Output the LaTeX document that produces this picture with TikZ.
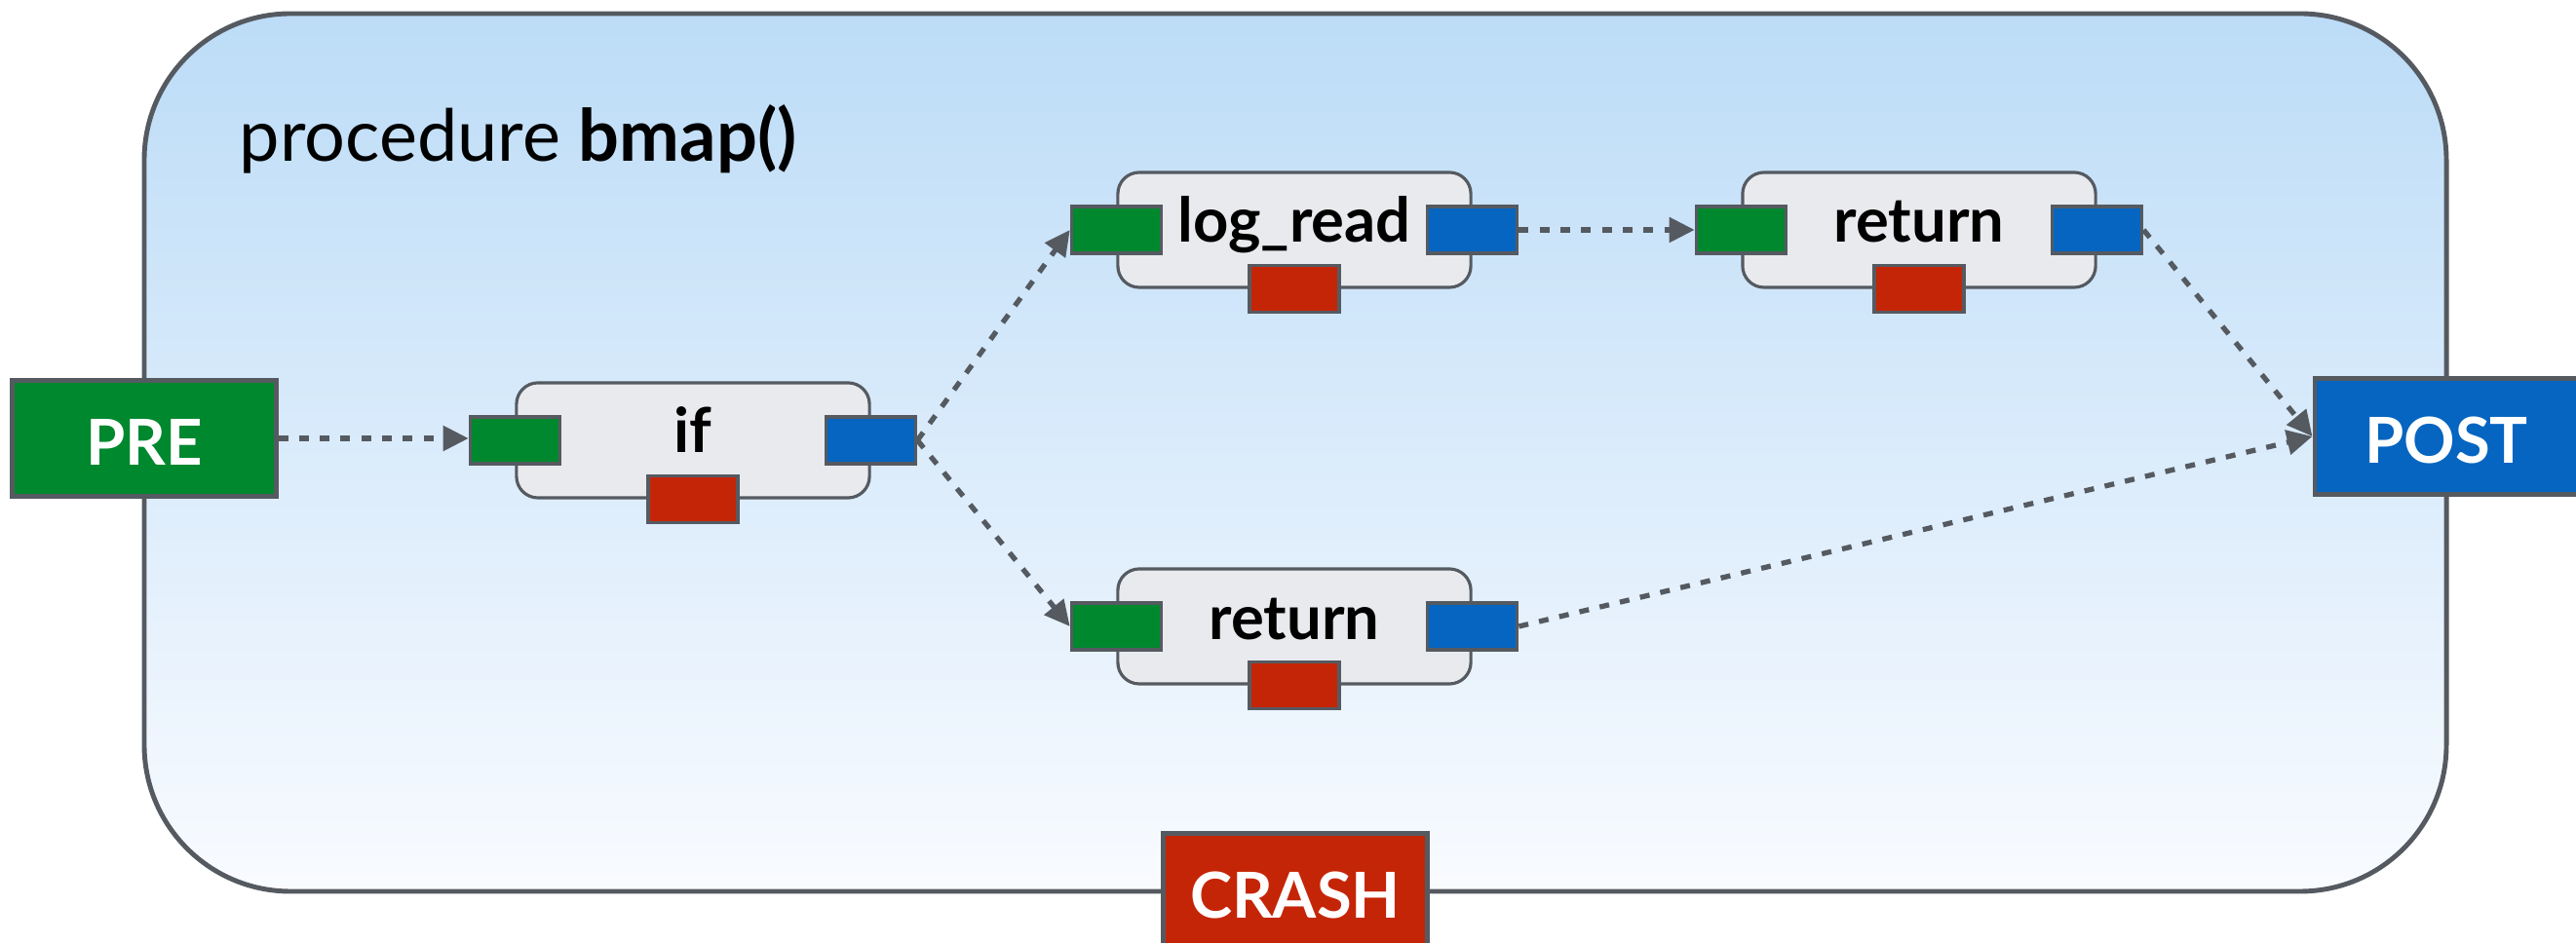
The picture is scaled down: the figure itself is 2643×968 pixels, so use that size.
\documentclass[tikz,border=0pt]{standalone}
\usepackage{fontspec}
\setmainfont{Lato}
\usetikzlibrary{arrows.meta}
\definecolor{edge}{HTML}{555A61}
\definecolor{pgreen}{HTML}{00882E}
\definecolor{pblue}{HTML}{0565C0}
\definecolor{pred}{HTML}{C52507}
\definecolor{bodyfill}{HTML}{E9EAEE}
\definecolor{bgtop}{HTML}{BCDCF7}
\definecolor{bgbot}{HTML}{F9FBFF}
\begin{document}
\begin{tikzpicture}[x=0.01cm,y=-0.01cm,
  outer/.style={draw=edge,line width=1.4pt,rounded corners=1.5cm,top color=bgtop,bottom color=bgbot},
  term/.style={draw=edge,line width=1.4pt,minimum width=2.7cm,minimum height=1.19cm,inner sep=0pt,
    text=white,font=\bfseries\fontsize{18.5}{20}\selectfont,text height=0.54cm,text depth=0pt},
  body/.style={draw=edge,line width=0.9pt,fill=bodyfill,rounded corners=0.22cm,minimum width=3.62cm,
    minimum height=1.18cm,inner sep=0pt,font=\bfseries\fontsize{18}{20}\selectfont,text height=0.45cm,text depth=0.19cm},
  port/.style={draw=edge,line width=0.9pt,minimum width=0.92cm,minimum height=0.48cm,inner sep=0pt},
  flow/.style={draw=edge,line width=1.5pt,dash pattern=on 0.10cm off 0.113cm,
    -{Triangle[length=0.26cm,width=0.25cm]}}
]
\useasboundingbox (0,0) rectangle (2643,968);
\draw[outer] (148,14) rectangle (2510,915);
\node[anchor=base west,font=\fontsize{21}{24}\selectfont,inner sep=0pt] (title) at (245,166) {procedure \textbf{bmap()}};

\node[term,fill=pgreen] (pre) at (148,450) {PRE};
\node[term,fill=pblue] (post) at (2510,448) {POST};
\node[term,fill=pred] (crash) at (1329,915) {CRASH};

% if block
\node[body] (if) at (711,452) {if};
\node[port,fill=pgreen] (ifin) at (if.west) {};
\node[port,fill=pblue] (ifout) at (if.east) {};
\node[port,fill=pred] (iferr) at (if.south) {};

% log_read block
\node[body] (lr) at (1328,236) {log\_read};
\node[port,fill=pgreen] (lrin) at (lr.west) {};
\node[port,fill=pblue] (lrout) at (lr.east) {};
\node[port,fill=pred] (lrerr) at (lr.south) {};

% return (top)
\node[body] (ra) at (1969,236) {return};
\node[port,fill=pgreen] (rain) at (ra.west) {};
\node[port,fill=pblue] (raout) at (ra.east) {};
\node[port,fill=pred] (raerr) at (ra.south) {};

% return (bottom)
\node[body] (rb) at (1328,643) {return};
\node[port,fill=pgreen] (rbin) at (rb.west) {};
\node[port,fill=pblue] (rbout) at (rb.east) {};
\node[port,fill=pred] (rberr) at (rb.south) {};

\draw[flow] (pre.east) -- (pre.east -| ifin.west);
\draw[flow] (ifout.east) -- (lrin.west);
\draw[flow] (ifout.east) -- (rbin.west);
\draw[flow] (lrout.east) -- (rain.west);
\draw[flow] (raout.east) -- (post.west);
\draw[flow] (rbout.east) -- (post.west);
\end{tikzpicture}
\end{document}
